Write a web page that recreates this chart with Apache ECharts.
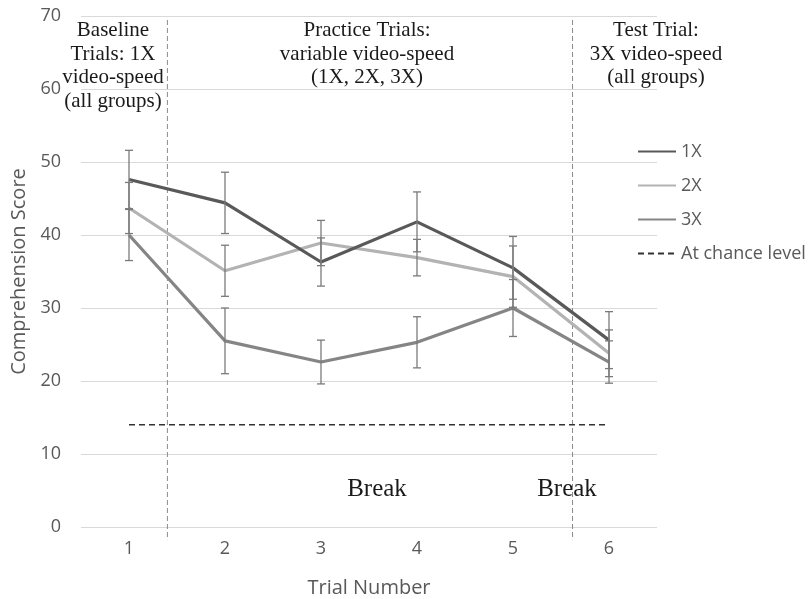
<!DOCTYPE html>
<html><head><meta charset="utf-8">
<script src="https://cdn.jsdelivr.net/npm/echarts@6/dist/echarts.min.js"></script>
<style>html,body{margin:0;padding:0;background:#fff}#c{width:810px;height:599px}</style>
</head><body><div id="c"></div>
<script>
var trials = ['1','2','3','4','5','6'];
var mean1X = [47.6, 44.4, 36.3, 41.8, 35.5, 25.6];
var err1X  = [4.0, 4.2, 3.3, 4.1, 4.3, 3.9];
var mean2X = [43.7, 35.1, 38.9, 36.9, 34.3, 23.8];
var err2X  = [3.5, 3.5, 3.1, 2.5, 4.2, 3.2];
var mean3X = [40.0, 25.5, 22.6, 25.3, 30.0, 22.6];
var err3X  = [3.5, 4.5, 3.0, 3.5, 3.9, 2.9];
var chanceLevel = [14, 14, 14, 14, 14, 14];
var phaseBreaks = [1.4, 5.62];
var yTicks = {min: 0, max: 70, interval: 10};

var serif = '"Liberation Serif", "Times New Roman", serif';
var sans = '"Open Sans", "Noto Sans", sans-serif';

function errData(m, e) {
  return m.map(function (v, i) { return [i, v - e[i], v + e[i]]; });
}
function errSeries(m, e) {
  return {
    type: 'custom', xAxisIndex: 0, yAxisIndex: 0, z: 5,
    data: errData(m, e),
    renderItem: function (params, api) {
      var x = api.value(0);
      var lo = api.coord([x, api.value(1)]);
      var hi = api.coord([x, api.value(2)]);
      var w = 4;
      var st = {stroke: '#7a7a7a', lineWidth: 1.3};
      return {type: 'group', children: [
        {type: 'line', shape: {x1: lo[0], y1: lo[1], x2: hi[0], y2: hi[1]}, style: st},
        {type: 'line', shape: {x1: lo[0] - w, y1: lo[1], x2: lo[0] + w, y2: lo[1]}, style: st},
        {type: 'line', shape: {x1: hi[0] - w, y1: hi[1], x2: hi[0] + w, y2: hi[1]}, style: st}
      ]};
    }
  };
}

var chart = echarts.init(document.getElementById('c'), null, {renderer: 'canvas'});
chart.setOption({
  animation: false,
  grid: {left: 81, right: 153, top: 16, bottom: 72, containLabel: false, outerBoundsMode: 'none'},
  legend: {
    orient: 'vertical', left: 632, top: 134, itemWidth: 38, itemHeight: 14, itemGap: 9,
    itemStyle: {opacity: 0, borderWidth: 0},
    textStyle: {color: '#595959', fontSize: 18, fontFamily: sans, padding: [0, 0, 0, 0], lineHeight: 25},
    data: ['1X', '2X', '3X', 'At chance level']
  },
  xAxis: [{
    type: 'category', data: trials, boundaryGap: true,
    axisLine: {show: false}, axisTick: {show: false},
    axisLabel: {color: '#595959', fontSize: 18, fontFamily: sans, margin: 13},
    name: 'Trial Number', nameLocation: 'middle', nameGap: 51,
    nameTextStyle: {color: '#595959', fontSize: 20, fontFamily: sans}
  }, {
    type: 'value', min: 0.5, max: 6.5, show: false
  }],
  yAxis: {
    type: 'value', min: yTicks.min, max: yTicks.max, interval: yTicks.interval,
    axisLine: {show: false}, axisTick: {show: false},
    splitLine: {lineStyle: {color: '#d9d9d9', width: 1}},
    axisLabel: {color: '#595959', fontSize: 18, fontFamily: sans, margin: 20},
    name: 'Comprehension Score', nameLocation: 'middle', nameGap: 49,
    nameTextStyle: {color: '#595959', fontSize: 20, fontFamily: sans}
  },
  series: [
    {name: '1X', type: 'line', data: mean1X, symbol: 'none', z: 4,
      lineStyle: {color: '#595959', width: 3.2}, itemStyle: {color: '#595959'}},
    {name: '2X', type: 'line', data: mean2X, symbol: 'none', z: 3,
      lineStyle: {color: '#b3b3b3', width: 3.2}, itemStyle: {color: '#b3b3b3'}},
    {name: '3X', type: 'line', data: mean3X, symbol: 'none', z: 3,
      lineStyle: {color: '#858585', width: 3.2}, itemStyle: {color: '#858585'}},
    {name: 'At chance level', type: 'line', data: chanceLevel, symbol: 'none', z: 2,
      lineStyle: {color: '#333333', width: 1.5, type: [6, 4]}, itemStyle: {color: '#333333'}},
    errSeries(mean1X, err1X),
    errSeries(mean2X, err2X),
    errSeries(mean3X, err3X),
    {
      type: 'custom', xAxisIndex: 1, yAxisIndex: 0, z: 1, clip: false,
      data: phaseBreaks.map(function (v) { return [v]; }),
      renderItem: function (params, api) {
        var top = api.coord([api.value(0), 69.45]);
        var bot = api.coord([api.value(0), -1.8]);
        return {type: 'line', shape: {x1: top[0], y1: top[1], x2: bot[0], y2: bot[1]},
          style: {stroke: '#8a8a8a', lineWidth: 1, lineDash: [5, 3]}};
      }
    }
  ],
  graphic: [
    {type: 'text', x: 113, y: 19, style: {text: 'Baseline\nTrials: 1X\nvideo-speed\n(all groups)', font: '21px ' + serif, fill: '#1a1a1a', align: 'center', lineHeight: 23.5}},
    {type: 'text', x: 367, y: 19, style: {text: 'Practice Trials:\nvariable video-speed\n(1X, 2X, 3X)', font: '21px ' + serif, fill: '#1a1a1a', align: 'center', lineHeight: 23.5}},
    {type: 'text', x: 656, y: 19, style: {text: 'Test Trial:\n3X video-speed\n(all groups)', font: '21px ' + serif, fill: '#1a1a1a', align: 'center', lineHeight: 23.5}},
    {type: 'text', x: 377, y: 477, style: {text: 'Break', font: '25px ' + serif, fill: '#1a1a1a', align: 'center'}},
    {type: 'text', x: 567, y: 477, style: {text: 'Break', font: '25px ' + serif, fill: '#1a1a1a', align: 'center'}}
  ]
});
</script></body></html>
